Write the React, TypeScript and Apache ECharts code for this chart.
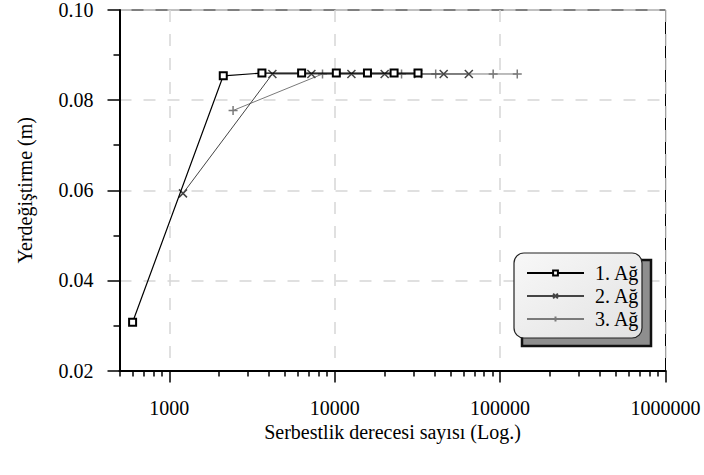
import React, { useEffect, useRef } from "react";
import * as echarts from "echarts";

const seriesNames = ["1. Ağ", "2. Ağ", "3. Ağ"];
const dofs1 = [600, 2120, 3630, 6310, 10230, 15780, 22860, 31900];
const disp1 = [0.0307, 0.0854, 0.086, 0.086, 0.086, 0.086, 0.086, 0.086];
const dofs2 = [1210, 4200, 7230, 12620, 20050, 31900, 45600, 64700];
const disp2 = [0.0593, 0.0858, 0.0858, 0.0858, 0.0858, 0.0858, 0.0858, 0.0858];
const dofs3 = [2430, 8440, 25360, 40800, 90800, 127000];
const disp3 = [0.0777, 0.0858, 0.0858, 0.0858, 0.0858, 0.0858];
const xMajorTicks = [1000, 10000, 100000, 1000000];
const xMinorTicks = [
  500, 600, 700, 800, 900,
  2000, 3000, 4000, 5000, 6000, 7000, 8000, 9000,
  20000, 30000, 40000, 50000, 60000, 70000, 80000, 90000,
  200000, 300000, 400000, 500000, 600000, 700000, 800000, 900000,
];
const xTitle = "Serbestlik derecesi sayısı (Log.)";
const yTitle = "Yerdeğiştirme (m)";

const FONT = "'Liberation Serif', 'Times New Roman', serif";
const pair = (xs: number[], ys: number[]) => xs.map((x, i) => [x, ys[i]]);
const crossPath = "path://M0,0L10,10M10,0L0,10";
const plusPath = "path://M5,0L5,10M0,5L10,5";

export default function App() {
  const ref = useRef<HTMLDivElement>(null);
  useEffect(() => {
    if (!ref.current) return;
    const chart = echarts.init(ref.current, null, { renderer: "svg" });
    chart.setOption({
      animation: false,
      backgroundColor: "#fff",
      grid: {
        left: 119.5,
        right: 38.5,
        top: 10,
        bottom: 104.5,
        show: true,
        borderColor: "#000",
        borderWidth: 1,
        backgroundColor: "transparent",
      },
      xAxis: [
        {
          type: "log",
          logBase: 10,
          min: 500,
          max: 1000000,
          position: "bottom",
          name: xTitle,
          nameLocation: "middle",
          nameGap: 50,
          nameTextStyle: { fontFamily: FONT, fontSize: 20, color: "#000" },
          axisLine: { show: true, lineStyle: { color: "#000", width: 2 } },
          axisTick: {
            show: true,
            length: 12,
            customValues: xMajorTicks,
            lineStyle: { color: "#000", width: 1.5 },
          },
          axisLabel: {
            customValues: xMajorTicks,
            margin: 27,
            fontFamily: FONT,
            fontSize: 20,
            color: "#000",
            formatter: (v: number) => String(Math.round(v)),
          },
          splitLine: {
            show: true,
            lineStyle: { color: "#d6d6d6", width: 1.5, type: [12, 12] },
          },
        },
        {
          type: "log",
          logBase: 10,
          min: 500,
          max: 1000000,
          position: "bottom",
          axisLine: { show: false },
          axisTick: {
            show: true,
            length: 6,
            customValues: xMinorTicks,
            lineStyle: { color: "#000", width: 1.5 },
          },
          axisLabel: { show: false },
          splitLine: { show: false },
        },
      ],
      yAxis: {
        type: "value",
        min: 0.02,
        max: 0.1,
        interval: 0.02,
        name: yTitle,
        nameLocation: "middle",
        nameGap: 85,
        nameTextStyle: { fontFamily: FONT, fontSize: 20, color: "#000" },
        axisLine: { show: true, lineStyle: { color: "#000", width: 2 } },
        axisTick: { show: true, length: 12, lineStyle: { color: "#000", width: 1.5 } },
        minorTick: { show: true, splitNumber: 2, length: 6, lineStyle: { color: "#000", width: 1.5 } },
        axisLabel: {
          margin: 26,
          fontFamily: FONT,
          fontSize: 20,
          color: "#000",
          formatter: (v: number) => v.toFixed(2),
        },
        splitLine: {
          show: true,
          lineStyle: { color: "#d6d6d6", width: 1.5, type: [12, 12] },
        },
      },
      legend: {
        orient: "vertical",
        left: 526,
        top: 263,
        itemWidth: 57,
        itemHeight: 6,
        itemGap: 3,
        padding: 0,
        z: 10,
        textStyle: {
          fontFamily: FONT,
          fontSize: 20,
          color: "#000",
          lineHeight: 20,
          padding: [0, 0, 0, 6],
        },
        data: seriesNames,
      },
      graphic: [
        {
          type: "rect",
          z: 5,
          shape: { x: 522, y: 260, width: 129, height: 86 },
          style: { fill: "#8e8e8e", stroke: "#111", lineWidth: 2.5 },
        },
        {
          type: "rect",
          z: 6,
          shape: { x: 514, y: 253, width: 128, height: 85, r: 10 },
          style: {
            fill: new echarts.graphic.LinearGradient(0, 0, 1, 1, [
              { offset: 0, color: "#f8f8f8" },
              { offset: 1, color: "#e2e2e2" },
            ]),
            stroke: "#222",
            lineWidth: 1.2,
          },
        },
      ],
      series: [
        {
          name: seriesNames[0],
          type: "line",
          xAxisIndex: 0,
          data: pair(dofs1, disp1),
          symbol: "emptyRect",
          symbolSize: 7,
          z: 4,
          lineStyle: { color: "#000", width: 1.2 },
          itemStyle: { color: "#000", borderColor: "#000", borderWidth: 1.5 },
        },
        {
          name: seriesNames[1],
          type: "line",
          xAxisIndex: 0,
          data: pair(dofs2, disp2),
          symbol: crossPath,
          symbolSize: 8,
          z: 3,
          lineStyle: { color: "#444", width: 1 },
          itemStyle: { color: "#444", borderColor: "#444", borderWidth: 1.5 },
        },
        {
          name: seriesNames[2],
          type: "line",
          xAxisIndex: 0,
          data: pair(dofs3, disp3),
          symbol: plusPath,
          symbolSize: 9,
          z: 2,
          lineStyle: { color: "#7a7a7a", width: 1 },
          itemStyle: { color: "#7a7a7a", borderColor: "#7a7a7a", borderWidth: 1.5 },
        },
      ],
    });
    return () => chart.dispose();
  }, []);
  return (
    <div
      ref={ref}
      style={{ position: "absolute", left: 0, top: 0, width: 704, height: 475 }}
    />
  );
}
